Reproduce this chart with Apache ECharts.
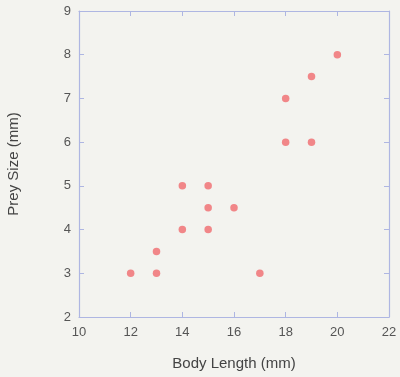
<!DOCTYPE html>
<html>
<head>
<meta charset="utf-8">
<script src="https://cdn.jsdelivr.net/npm/echarts@6/dist/echarts.min.js"></script>
<style>
  html, body { margin: 0; padding: 0; background: #f3f3ef; }
  #chart { width: 400px; height: 377px; }
</style>
</head>
<body>
<div id="chart"></div>
<script>
// Data
var bodyLength = [12, 13, 13, 14, 14, 15, 15, 15, 16, 17, 18, 18, 19, 19, 20];
var preySize   = [3, 3, 3.5, 4, 5, 5, 4.5, 4, 4.5, 3, 6, 7, 6, 7.5, 8];

var points = bodyLength.map(function (x, i) { return [x, preySize[i]]; });

var axisColor = '#aeb6e2';
var labelColor = '#555555';

var baseAxis = {
    axisLine: { show: true, lineStyle: { color: axisColor, width: 1.2 } },
    axisTick: { show: true, inside: true, length: 5, lineStyle: { color: axisColor } },
    splitLine: { show: false }
};

var chart = echarts.init(document.getElementById('chart'));

chart.setOption({
    backgroundColor: '#f3f3ef',
    animation: false,
    textStyle: { fontFamily: 'Liberation Sans, Arial, sans-serif' },
    grid: { left: 79, right: 11, top: 11, bottom: 60, containLabel: false, outerBoundsMode: 'none' },
    xAxis: [
        Object.assign({}, baseAxis, {
            type: 'value', position: 'bottom',
            min: 10, max: 22, interval: 2,
            name: 'Body Length (mm)', nameLocation: 'middle', nameGap: 39,
            nameTextStyle: { color: '#444', fontSize: 15 },
            axisLabel: { color: labelColor, fontSize: 13, margin: 9 }
        }),
        Object.assign({}, baseAxis, {
            type: 'value', position: 'top',
            min: 10, max: 22, interval: 2,
            axisLabel: { show: false }
        })
    ],
    yAxis: [
        Object.assign({}, baseAxis, {
            type: 'value', position: 'left',
            min: 2, max: 9, interval: 1,
            name: 'Prey Size (mm)', nameLocation: 'middle', nameGap: 58,
            nameTextStyle: { color: '#444', fontSize: 15 },
            axisLabel: { color: labelColor, fontSize: 13, margin: 8 }
        }),
        Object.assign({}, baseAxis, {
            type: 'value', position: 'right',
            min: 2, max: 9, interval: 1,
            axisLabel: { show: false }
        })
    ],
    series: [{
        type: 'scatter',
        data: points,
        symbolSize: 7.5,
        itemStyle: { color: '#f06a6e' }
    }]
});
</script>
</body>
</html>
